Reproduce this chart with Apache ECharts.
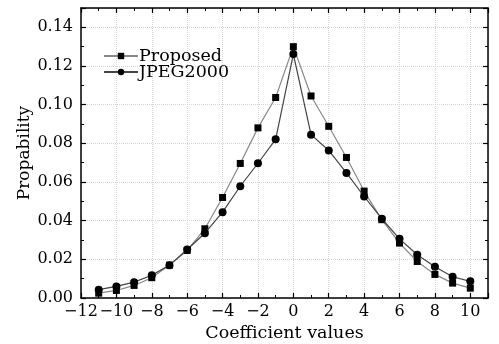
<!DOCTYPE html>
<html><head><meta charset="utf-8">
<script src="https://cdn.jsdelivr.net/npm/echarts@6/dist/echarts.min.js"></script>
<style>html,body{margin:0;padding:0;background:#fff}#c{width:499px;height:344px}</style>
</head><body><div id="c"></div>
<script>
const xValues = [-11,-10,-9,-8,-7,-6,-5,-4,-3,-2,-1,0,1,2,3,4,5,6,7,8,9,10];
const proposed = [0.0025,0.0039,0.0065,0.0105,0.017,0.0246,0.0358,0.052,0.0696,0.088,0.1037,0.130,0.1045,0.0888,0.0727,0.0553,0.0405,0.0284,0.0189,0.0122,0.0077,0.0051];
const jpeg2000 = [0.0043,0.006,0.0082,0.0118,0.017,0.0251,0.0335,0.0444,0.0578,0.0697,0.0821,0.1262,0.0845,0.0763,0.0647,0.0525,0.041,0.0306,0.0224,0.0162,0.011,0.0086];
const seriesNames = ['Proposed','JPEG2000'];
const xTitle = 'Coefficient values';
const yTitle = 'Propability';

const FONT = 'DejaVu Serif';
const pair = (ys) => xValues.map((x,i)=>[x, ys[i]]);
const axisBase = {
  axisLine:{show:true,onZero:false,lineStyle:{color:'#000',width:1.5}},
  axisTick:{show:true,inside:true,length:5,lineStyle:{color:'#000',width:1.2}},
  minorTick:{show:true,splitNumber:2,length:3,lineStyle:{color:'#000',width:1}},
};
const chart = echarts.init(document.getElementById('c'));
chart.setOption({
  animation:false,
  backgroundColor:'#fff',
  grid:{left:81,right:11,top:8,bottom:46,containLabel:false,outerBoundsMode:'none'},
  legend:{
    orient:'vertical',left:98,top:42,itemWidth:34,itemHeight:8,itemGap:-2,
    textStyle:{fontFamily:FONT,fontSize:17.5,color:'#000',padding:[0,0,0,-4]},
    data:seriesNames
  },
  xAxis:[
    Object.assign({type:'value',min:-12,max:11,interval:2,
      name:xTitle,nameLocation:'middle',nameGap:26,
      nameTextStyle:{fontFamily:FONT,fontSize:17.5,color:'#000'},
      axisLabel:{fontFamily:FONT,fontSize:16,color:'#000',margin:6,
        formatter:v=> v>10 ? '' : (v<0?'\u2212'+Math.abs(v):String(v))},
      splitLine:{show:true,lineStyle:{color:'#d4d4d4',type:'dotted',width:1}}
    },axisBase),
    Object.assign({type:'value',min:-12,max:11,interval:2,position:'top',
      axisLabel:{show:false},splitLine:{show:false}},axisBase)
  ],
  yAxis:[
    Object.assign({type:'value',min:0,max:0.15,interval:0.02,
      name:yTitle,nameLocation:'middle',nameGap:48,nameMoveOverlap:false,
      nameTextStyle:{fontFamily:FONT,fontSize:17,color:'#000'},
      axisLabel:{fontFamily:FONT,fontSize:16,color:'#000',margin:8,
        formatter:v=> v>0.145 ? '' : v.toFixed(2)},
      splitLine:{show:true,lineStyle:{color:'#d4d4d4',type:'dotted',width:1}}
    },axisBase),
    Object.assign({type:'value',min:0,max:0.15,interval:0.02,position:'right',
      axisLabel:{show:false},splitLine:{show:false}},axisBase)
  ],
  series:[
    {name:seriesNames[0],type:'line',data:pair(proposed),symbol:'rect',symbolSize:7,
     itemStyle:{color:'#000'},lineStyle:{color:'#888',width:1.2},z:3},
    {name:seriesNames[1],type:'line',data:pair(jpeg2000),symbol:'circle',symbolSize:8,
     itemStyle:{color:'#000'},lineStyle:{color:'#444',width:1.2},z:4}
  ]
});
</script></body></html>
